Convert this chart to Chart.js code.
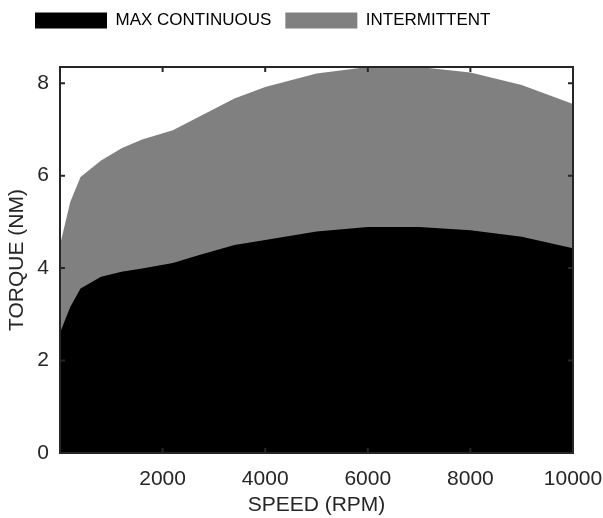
<!DOCTYPE html>
<html>
<head>
<meta charset="utf-8">
<script src="https://cdn.jsdelivr.net/npm/chart.js@4.4.1/dist/chart.umd.min.js"></script>
<style>
  html, body { margin: 0; padding: 0; background: #ffffff; }
  #wrap { width: 603px; height: 518px; }
</style>
</head>
<body>
<div id="wrap"><canvas id="c" width="603" height="518"></canvas></div>
<script>
// ---- data ----
const speeds       = [0, 200, 400, 800, 1200, 1600, 2200, 2700, 3400, 4000, 5000, 6000, 7000, 8000, 9000, 10000];
const continuous   = [2.6, 3.16, 3.56, 3.81, 3.92, 3.99, 4.11, 4.28, 4.5, 4.61, 4.79, 4.89, 4.89, 4.82, 4.68, 4.43];
const intermittent = [4.5, 5.43, 5.97, 6.33, 6.59, 6.78, 6.98, 7.27, 7.67, 7.92, 8.21, 8.35, 8.35, 8.23, 7.96, 7.55];
const seriesLabels = ['MAX CONTINUOUS', 'INTERMITTENT'];
const xTicks = [2000, 4000, 6000, 8000, 10000];
const yTicks = [0, 2, 4, 6, 8];
const xTitle = 'SPEED (RPM)';
const yTitle = 'TORQUE (NM)';

const toPts = (ys) => speeds.map((s, i) => ({ x: s, y: ys[i] }));
const FONT = "'Liberation Sans', Arial, Helvetica, sans-serif";
const INK = '#262626';

const boxPlugin = {
  id: 'matlabBox',
  afterLayout(chart) {
    const lg = chart.legend;
    if (lg) { lg.left = 21; lg.top = -2; }
  },
  afterDatasetsDraw(chart) {
    const { ctx, chartArea: a, scales } = chart;
    ctx.save();
    ctx.strokeStyle = INK;
    ctx.lineWidth = 2;
    ctx.beginPath();
    const tl = 5;
    scales.x.ticks.forEach(t => {
      const px = scales.x.getPixelForValue(t.value);
      ctx.moveTo(px, a.bottom); ctx.lineTo(px, a.bottom - tl);
      ctx.moveTo(px, a.top); ctx.lineTo(px, a.top + tl);
    });
    scales.y.ticks.forEach(t => {
      const py = scales.y.getPixelForValue(t.value);
      ctx.moveTo(a.left, py); ctx.lineTo(a.left + tl, py);
      ctx.moveTo(a.right, py); ctx.lineTo(a.right - tl, py);
    });
    ctx.stroke();
    ctx.strokeRect(a.left, a.top, a.right - a.left, a.bottom - a.top);
    ctx.restore();
  }
};

new Chart(document.getElementById('c'), {
  type: 'line',
  data: {
    datasets: [
      { label: seriesLabels[0], data: toPts(continuous), backgroundColor: '#000000', borderColor: '#000000',
        borderWidth: 0, pointRadius: 0, fill: 'origin', tension: 0 },
      { label: seriesLabels[1], data: toPts(intermittent), backgroundColor: '#808080', borderColor: '#808080',
        borderWidth: 0, pointRadius: 0, fill: 'origin', tension: 0 }
    ]
  },
  options: {
    responsive: false,
    animation: false,
    devicePixelRatio: 1,
    layout: { padding: { top: 26, right: 30, left: 0, bottom: 0 } },
    plugins: {
      tooltip: { enabled: false },
      legend: {
        position: 'top',
        align: 'start',
        labels: {
          boxWidth: 72, boxHeight: 16, padding: 14, color: '#000000',
          font: { family: FONT, size: 17 }
        }
      }
    },
    scales: {
      x: {
        type: 'linear', min: 0, max: 10000,
        grid: { display: false, drawTicks: false },
        border: { display: false },
        afterBuildTicks: (s) => { s.ticks = xTicks.map(v => ({ value: v })); },
        afterFit: (s) => { s.height = 65; s.paddingLeft = 0; s.paddingRight = 0; },
        ticks: { color: INK, padding: 14, maxRotation: 0, font: { family: FONT, size: 21 },
                 callback: (v) => String(v) },
        title: { display: true, text: xTitle, color: INK, padding: { top: 0, bottom: 0 }, font: { family: FONT, size: 21 } }
      },
      y: {
        type: 'linear', min: 0, max: 8.35,
        grid: { display: false, drawTicks: false },
        border: { display: false },
        afterBuildTicks: (s) => { s.ticks = yTicks.map(v => ({ value: v })); },
        afterFit: (s) => { s.width = 60; s.paddingTop = 0; s.paddingBottom = 0; },
        ticks: { color: INK, padding: 11, font: { family: FONT, size: 21 },
                 callback: (v) => String(v) },
        title: { display: true, text: yTitle, color: INK, padding: { top: 5, bottom: 0 }, font: { family: FONT, size: 21 } }
      }
    }
  },
  plugins: [boxPlugin]
});
</script>
</body>
</html>
